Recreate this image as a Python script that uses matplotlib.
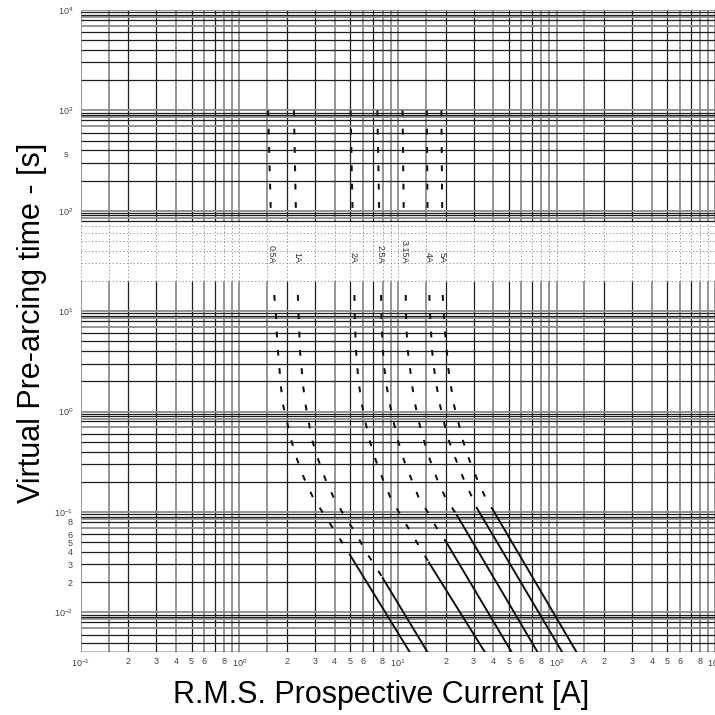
import numpy as np
import matplotlib.pyplot as plt
from matplotlib.ticker import NullLocator
from matplotlib.transforms import blended_transform_factory

plt.rcParams['font.family'] = ['Liberation Sans', 'DejaVu Sans']
plt.rcParams['mathtext.fontset'] = 'custom'
plt.rcParams['mathtext.rm'] = 'Liberation Sans'
plt.rcParams['lines.scale_dashes'] = False

# ==== fuse curves ====
fuses = ["0.5A", "1A", "2A", "2.5A", "3.15A", "4A", "5A"]

# upper dashed part: current [A] at 1000 s and at 80 s
top_t = [1000, 80]
top_i = [
    [1.52, 1.585],
    [2.21, 2.28],
    [5.03, 5.19],
    [7.42, 7.64],
    [10.7, 10.9],
    [15.2, 15.4],
    [18.8, 19.05],
]

# lower dashed part, below the label band
knee_t = [14.5, 9.5, 6.25, 4.1, 2.7, 1.77, 1.16, 0.76, 0.5, 0.33,
          0.217, 0.142, 0.093, 0.061, 0.040, 0.0275]
knee_i = [
    [1.66, 1.70, 1.72, 1.75, 1.79, 1.83, 1.89, 2.01, 2.14, 2.32, 2.56, 2.90, 3.44, 4.10],
    [2.34, 2.36, 2.39, 2.41, 2.47, 2.53, 2.62, 2.75, 2.90, 3.15, 3.47, 3.91, 4.57, 5.44, 6.29, 7.35],
    [5.32, 5.34, 5.39, 5.44, 5.55, 5.71, 5.94, 6.27, 6.67, 7.24, 7.98, 8.92, 10.4, 12.2, 14.3],
    [7.83, 7.86, 7.94, 8.03, 8.21, 8.50, 8.92, 9.45, 10.06, 10.9, 12.1, 13.45, 15.8, 18.4],
    [11.2, 11.25, 11.36, 11.53, 11.92, 12.33, 12.88, 13.65, 14.67, 15.94, 17.57, 19.82],
    [15.78, 15.94, 16.17, 16.41, 16.89, 17.57, 18.43, 19.61, 21.09, 23.25, 25.85, 29.21],
    [19.16, 19.45, 19.82, 20.31, 20.79, 21.62, 22.58, 24.17, 25.85, 28.2, 31.4, 35.41],
]

# straight I2t part: start point, and current at the bottom edge (0.004 s)
solid_i0 = [4.99, 8.03, 15.7, 20.1, 23.5, 31.4, 40.0]
solid_t0 = [0.0373, 0.0219, 0.0313, 0.0506, 0.0933, 0.110, 0.103]
solid_i1 = [11.9, 15.4, 35.4, 52.2, 76.1, 108.8, 134.0]

X_MIN, X_MAX = 0.1, 1000
Y_MIN, Y_MAX = 0.004, 1e4
BAND = (20, 80)      # label band with dotted grid
LABEL_T = 30         # lower end of the rating labels

# ==== grid layout ====
grid_x_mant = [1, 1.5, 2, 3, 4, 5, 6, 7, 8, 9]
grid_x_gray = [1, 1, 0, 0, 1, 0, 1, 0, 1, 1]
grid_y_mant = [1, 2, 3, 4, 5, 6, 7, 8, 8.5, 9, 9.5]
grid_y_gray = [1, 0, 0, 0, 0, 0, 1, 0, 1, 0, 0]

DARK = '#1e1e1e'
GRAY = '#8c8c8c'
DOT = '#9a9a9a'

fig = plt.figure(figsize=(7.15, 7.15), dpi=100)
ax = fig.add_axes([80.7 / 715, 1 - 652.3 / 715, 634.4 / 715, 642.3 / 715])
ax.set_xscale('log')
ax.set_yscale('log')
ax.set_xlim(X_MIN, X_MAX)
ax.set_ylim(Y_MIN, Y_MAX)
for s in ax.spines.values():
    s.set_visible(False)

# vertical grid lines
xs = []
for d in range(-1, 3):
    for m, g in zip(grid_x_mant, grid_x_gray):
        xs.append((m * 10 ** d, g))
xs.append((X_MAX, 1))
for x, g in xs:
    col, lw = (GRAY, 1.3) if g else (DARK, 0.9)
    ax.vlines(x, Y_MIN, BAND[0], color=col, lw=lw, zorder=1)
    ax.vlines(x, BAND[1], Y_MAX, color=col, lw=lw, zorder=1)
    ax.vlines(x, BAND[0], BAND[1], color=DOT, lw=0.7,
              linestyles=(0, (1, 1.5)), zorder=1)

# horizontal grid lines
ys = []
for d in range(-3, 4):
    for m, g in zip(grid_y_mant, grid_y_gray):
        v = m * 10 ** d
        if v >= Y_MIN:
            ys.append((v, g))
ys.append((Y_MAX, 1))
for y, g in ys:
    if BAND[0] <= y < BAND[1]:
        ax.hlines(y, X_MIN, X_MAX, color=DOT, lw=0.7,
                  linestyles=(0, (1, 1.5)), zorder=1)
    else:
        col, lw = (GRAY, 1.3) if g else (DARK, 0.9)
        ax.hlines(y, X_MIN, X_MAX, color=col, lw=lw, zorder=1)
ax.hlines(Y_MIN, X_MIN, X_MAX, color=DARK, lw=1.0, zorder=1)

# ==== curves ====
for k, name in enumerate(fuses):
    ki = knee_i[k]
    I = top_i[k] + [np.nan] + ki + [solid_i0[k]]
    T = top_t + [np.nan] + knee_t[:len(ki)] + [solid_t0[k]]
    ax.plot(I, T, color='#111111', lw=1.45, dashes=(4.2, 9.0), zorder=3)
    ax.plot([solid_i0[k], solid_i1[k]], [solid_t0[k], Y_MIN],
            color='#111111', lw=1.4, zorder=3)
    ax.text(top_i[k][1] * 1.005, LABEL_T, name, rotation=270, ha='center',
            va='bottom', fontsize=6.5, color='#333333', zorder=4)

# ==== ticks ====
x_pos, x_lab = [], []
for d in range(-1, 3):
    x_pos.append(10.0 ** d)
    x_lab.append(r'$\mathdefault{10^{%d}}$' % d)
    if d == 2:
        x_pos.append(150)
        x_lab.append('A')
    for m in [2, 3, 4, 5, 6, 8]:
        x_pos.append(m * 10.0 ** d)
        x_lab.append(str(m))
x_pos.append(1000)
x_lab.append(r'$\mathdefault{10^{3}}$')
ax.set_xticks(x_pos, x_lab)

y_pos, y_lab = [], []
for d in range(-2, 5):
    y_pos.append(10.0 ** d)
    y_lab.append(r'$\mathdefault{10^{%d}}$' % d)
for m in [2, 3, 4, 5, 6, 8]:
    y_pos.append(m * 0.01)
    y_lab.append(str(m))
ax.set_yticks(y_pos, y_lab)
ax.xaxis.set_minor_locator(NullLocator())
ax.yaxis.set_minor_locator(NullLocator())
ax.tick_params(axis='x', length=0, pad=3.5, labelsize=6.5, labelcolor='#444444')
ax.tick_params(axis='y', length=0, pad=5.5, labelsize=6.5, labelcolor='#444444')

trans = blended_transform_factory(ax.transAxes, ax.transData)
ax.text(-0.0195, 363, 's', ha='right', va='center', fontsize=6.5,
        color='#444444', transform=trans)

fig.text(381 / 715, 1 - 695 / 715, 'R.M.S. Prospective Current [A]',
         ha='center', va='center', fontsize=22)
fig.text(32 / 715, 1 - 323 / 715, 'Virtual Pre-arcing time - [s]',
         ha='center', va='center', rotation=90, fontsize=22)

fig.savefig('out.png', dpi=100)
